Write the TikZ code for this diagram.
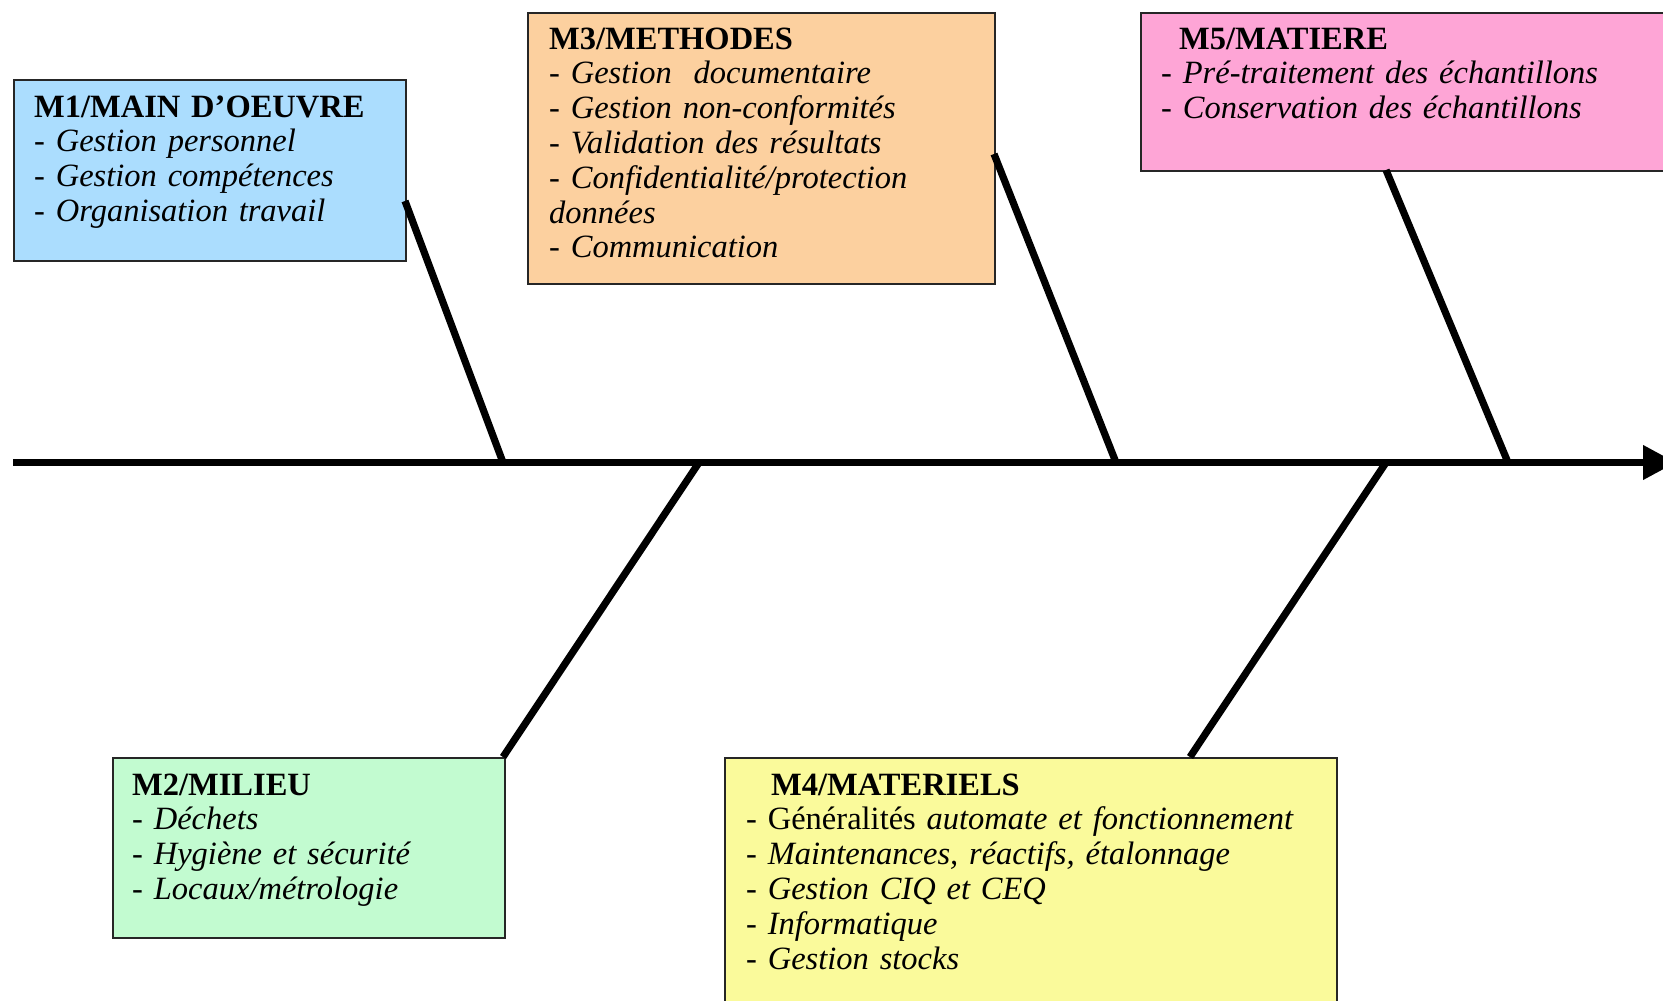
\documentclass[tikz,border=0pt]{standalone}
\usepackage{fontspec}
\setmainfont{Liberation Serif}[
  UprightFont={Liberation Serif},
  BoldFont={Liberation Serif Bold},
  ItalicFont={Liberation Serif Italic},
  BoldItalicFont={Liberation Serif Bold Italic}]
\usetikzlibrary{arrows.meta}

\definecolor{MainBlue}{HTML}{ABDDFE}
\definecolor{MilieuGreen}{HTML}{C2FBD0}
\definecolor{MethodOrange}{HTML}{FCD09F}
\definecolor{MaterielYellow}{HTML}{FAFA9B}
\definecolor{MatierePink}{HTML}{FEA5D6}

\begin{document}
\begin{tikzpicture}[x=1pt,y=-1pt,
    box/.style={draw=black!85, line width=1.5pt, anchor=north west, inner sep=0pt},
    boxtext/.style={anchor=base west, inner sep=0pt, text width=620pt, align=left,
      font=\fontsize{32.5}{34.8}\selectfont},
    bone/.style={line width=7.2pt}]
      \useasboundingbox (0,0) rectangle (1663,1001);

      % Define the spine and the joints on it
      \def\SpineY{462.5}
      \coordinate (tail) at (13,\SpineY);
      \coordinate (head) at (1676,\SpineY);
      \coordinate (j1) at (503,\SpineY);
      \coordinate (j2) at (699,\SpineY);
      \coordinate (j3) at (1116,\SpineY);
      \coordinate (j4) at (1386,\SpineY);
      \coordinate (j5) at (1508,\SpineY);

      % Draw the boxes
      \node[box, fill=MainBlue, minimum width=392pt, minimum height=181pt] (m1) at (13,79) {};
      \node[box, fill=MethodOrange, minimum width=467pt, minimum height=271pt] (m3) at (527,12) {};
      \node[box, fill=MatierePink, minimum width=560pt, minimum height=158pt] (m5) at (1140,12) {};
      \node[box, fill=MilieuGreen, minimum width=392pt, minimum height=180pt] (m2) at (112,757) {};
      \node[box, fill=MaterielYellow, minimum width=612pt, minimum height=280pt] (m4) at (724,757) {};

      % Ends of the bones on the boxes
      \coordinate (b1) at (405,201);
      \coordinate (b3) at (994,154);
      \coordinate (b5) at (1386,170);
      \coordinate (b2) at (503,757);
      \coordinate (b4) at (1190,757);

      % Draw the spine and the bones
      \draw[bone, -{Triangle[length=33pt,width=33pt]}] (tail) -- (head);
      \draw[bone] (b1) -- (j1);
      \draw[bone] (b2) -- (j2);
      \draw[bone] (b3) -- (j3);
      \draw[bone] (b4) -- (j4);
      \draw[bone] (b5) -- (j5);

      % Texts of the boxes
      \node[boxtext] (m1t) at ([xshift=21pt,yshift=-38pt]m1.north west)
        {\textbf{M1/MAIN D’OEUVRE}\\
         \textit{- Gestion personnel}\\
         \textit{- Gestion compétences}\\
         \textit{- Organisation travail}};
      \node[boxtext] (m3t) at ([xshift=22pt,yshift=-37pt]m3.north west)
        {\textbf{M3/METHODES}\\
         \textit{- Gestion~ documentaire}\\
         \textit{- Gestion non-conformités}\\
         \textit{- Validation des résultats}\\
         \textit{- Confidentialité/protection}\\
         \textit{données}\\
         \textit{- Communication}};
      \node[boxtext] (m5t) at ([xshift=21pt,yshift=-37pt]m5.north west)
        {\hspace*{18pt}\textbf{M5/MATIERE}\\
         \textit{- Pré-traitement des échantillons}\\
         \textit{- Conservation des échantillons}};
      \node[boxtext] (m2t) at ([xshift=20pt,yshift=-38pt]m2.north west)
        {\textbf{M2/MILIEU}\\
         \textit{- Déchets}\\
         \textit{- Hygiène et sécurité}\\
         \textit{- Locaux/métrologie}};
      \node[boxtext] (m4t) at ([xshift=22pt,yshift=-38pt]m4.north west)
        {\hspace*{25pt}\textbf{M4/MATERIELS}\\
         - Généralités \textit{automate et fonctionnement}\\
         \textit{- Maintenances, réactifs, étalonnage}\\
         \textit{- Gestion CIQ et CEQ}\\
         \textit{- Informatique}\\
         \textit{- Gestion stocks}};
    \end{tikzpicture}
\end{document}
